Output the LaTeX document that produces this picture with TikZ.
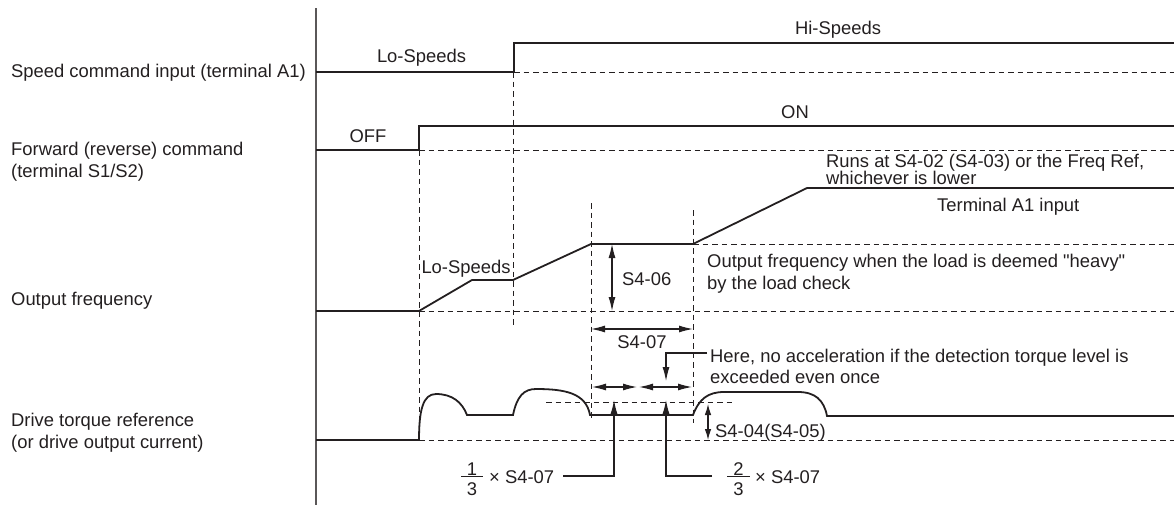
\documentclass[tikz,border=0pt]{standalone}
\usepackage{fontspec}
\setmainfont{Liberation Sans}[Ligatures=TeXOff]
\usetikzlibrary{arrows.meta}
\definecolor{ink}{HTML}{231F20}
\newcommand\labfont{\fontsize{18.4}{22}\selectfont}
\begin{document}
\begin{tikzpicture}[x=1pt,y=-1pt,
  sig/.style={draw=ink, line width=1.8pt, line join=miter},
  dsh/.style={draw=ink, line width=1pt, dash pattern=on 5.5pt off 4pt},
  axisline/.style={draw=ink!75, line width=1.2pt},
  txt/.style={text=ink, inner sep=0pt, font=\labfont},
  dimarrow/.style={draw=ink, line width=1.1pt, {Latex[length=14pt,width=7pt]}-{Latex[length=14pt,width=7pt]}},
  shortdim/.style={draw=ink, line width=1.1pt, {Latex[length=11pt,width=6.5pt]}-{Latex[length=11pt,width=6.5pt]}},
  pointer/.style={draw=ink, line width=1.1pt, -{Latex[length=14pt,width=7pt]}},
  fracbar/.style={draw=ink, line width=0.9pt}]
\useasboundingbox (0,0) rectangle (1174,506);

% axis
\coordinate (axtop) at (316,8);
\coordinate (axbot) at (316,505);
\draw[axisline] (axtop) -- (axbot);

% row labels
\node[txt, anchor=base west] (lspeed) at (11,77.5) {Speed command input (terminal A1)};
\node[txt, anchor=base west] (lfwd) at (11,155.5) {Forward (reverse) command};
\node[txt, anchor=base west] (lfwdb) at (11,177) {(terminal S1/S2)};
\node[txt, anchor=base west] (lout) at (11,305) {Output frequency};
\node[txt, anchor=base west] (ltrq) at (11,426.5) {Drive torque reference};
\node[txt, anchor=base west] (ltrqb) at (11,448.5) {(or drive output current)};

% speed command
\draw[sig] (316,72) -- (514,72) -- (514,43) -- (1174,43);
\draw[dsh] (514,72) -- (1174,72);
\node[txt, anchor=base] (lo1) at (421.5,62) {Lo-Speeds};
\node[txt, anchor=base] (hi) at (838,34.5) {Hi-Speeds};

% forward command
\draw[sig] (316,150) -- (419,150) -- (419,126) -- (1174,126);
\draw[dsh] (419,150) -- (1174,150);
\node[txt, anchor=base] (off) at (368,142) {OFF};
\node[txt, anchor=base] (on) at (795,118) {ON};

% output frequency
\draw[sig] (316,311) -- (419,311) -- (472,280) -- (513,280) -- (591,244) -- (693,244) -- (807,188) -- (1174,188);
\draw[dsh] (693,244) -- (1174,244);
\draw[dsh] (419,311) -- (1174,311);
\node[txt, anchor=base] (lo2) at (466,273) {Lo-Speeds};
\node[txt, anchor=base west] (runs1) at (826,167) {Runs at S4-02 (S4-03) or the Freq Ref,};
\node[txt, anchor=base west] (runs2) at (826,184) {whichever is lower};
\node[txt, anchor=base west] (termA1) at (937,211) {Terminal A1 input};
\node[txt, anchor=base west] (heavy1) at (707,267) {Output frequency when the load is deemed "heavy"};
\node[txt, anchor=base west] (heavy2) at (707,289) {by the load check};

% dashed verticals
\draw[dsh] (419,150) -- (419,440);
\draw[dsh] (513,72) -- (513,327);
\draw[dsh] (591,203) -- (591,420);
\draw[dsh] (693,210) -- (693,423);

% S4-06 and S4-07
\coordinate (s6a) at (612,244);
\coordinate (s6b) at (612,311);
\draw[dimarrow] (s6a) -- (s6b);
\node[txt, anchor=base west] (s406) at (622,285) {S4-06};
\coordinate (s7a) at (591,329);
\coordinate (s7b) at (693,329);
\draw[dimarrow] (s7a) -- (s7b);
\node[txt, anchor=base] (s407) at (642,348) {S4-07};

% thirds
\coordinate (t1a) at (592,387);
\coordinate (t1b) at (637,387);
\coordinate (t2a) at (639,387);
\coordinate (t2b) at (692,387);
\draw[dimarrow] (t1a) -- (t1b);
\draw[dimarrow] (t2a) -- (t2b);

% torque
\draw[sig] (316,440) -- (419,440)
  .. controls (419,410) and (423,394) .. (436,394)
  .. controls (452,394) and (462,402) .. (467,415) -- (513,415)
  .. controls (517,396) and (524,389) .. (536,389)
  .. controls (565,389) and (586,393) .. (590,415) -- (693,415)
  .. controls (699,399) and (708,392) .. (724,392) -- (798,392)
  .. controls (815,392) and (824,400) .. (827,416) -- (1174,416);
\draw[dsh] (419,440) -- (1174,440);
\draw[dsh] (546,402) -- (733,402);

% S4-04
\coordinate (s4a) at (708,404);
\coordinate (s4b) at (708,440);
\draw[shortdim] (s4a) -- (s4b);
\node[txt, anchor=base west] (s404) at (715,437) {S4-04(S4-05)};

% here note
\node[txt, anchor=base west] (here1) at (710,362) {Here, no acceleration if the detection torque level is};
\node[txt, anchor=base west] (here2) at (710,383) {exceeded even once};
\coordinate (hereA) at (707,353);
\coordinate (hereB) at (666,353);
\coordinate (hereC) at (666,381);
\draw[pointer] (hereA) -- (hereB) -- (hereC);

% 1/3 x S4-07
\node[txt, anchor=base] (f1n) at (472,475) {1};
\node[txt, anchor=base] (f1d) at (472,495) {3};
\coordinate (f1l) at (461,476);
\coordinate (f1r) at (483,476);
\draw[fracbar] (f1l) -- (f1r);
\node[txt, anchor=base west] (f1t) at (489,483) {× S4-07};
\coordinate (p1a) at (563,476);
\coordinate (p1b) at (614,476);
\coordinate (p1c) at (614,400);
\draw[pointer] (p1a) -- (p1b) -- (p1c);

% 2/3 x S4-07
\node[txt, anchor=base] (f2n) at (738.5,475) {2};
\node[txt, anchor=base] (f2d) at (738.5,495) {3};
\coordinate (f2l) at (727,476);
\coordinate (f2r) at (750,476);
\draw[fracbar] (f2l) -- (f2r);
\node[txt, anchor=base west] (f2t) at (755,483) {× S4-07};
\coordinate (p2a) at (712,476);
\coordinate (p2b) at (666,476);
\coordinate (p2c) at (666,400);
\draw[pointer] (p2a) -- (p2b) -- (p2c);
\end{tikzpicture}
\end{document}
